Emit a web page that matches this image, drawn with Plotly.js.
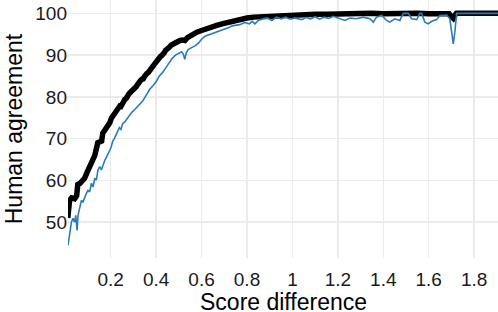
<!DOCTYPE html>
<html>
<head>
<meta charset="utf-8">
<script src="https://cdn.plot.ly/plotly-3.0.1.min.js"></script>
<style>html,body{margin:0;padding:0;background:#fff;}#chart{width:498px;height:312px;}</style>
</head>
<body>
<div id="chart"></div>
<script>
const blackX = [0.011,0.015,0.019,0.028,0.041,0.050,0.055,0.065,0.072,0.085,0.095,0.107,0.118,0.130,0.143,0.152,0.160,0.165,0.175,0.182,0.196,0.203,0.209,0.213,0.217,0.222,0.226,0.232,0.240,0.245,0.250,0.256,0.262,0.268,0.275,0.280,0.285,0.293,0.299,0.306,0.312,0.319,0.326,0.331,0.337,0.343,0.348,0.354,0.359,0.365,0.370,0.376,0.381,0.387,0.392,0.398,0.403,0.409,0.414,0.420,0.425,0.431,0.436,0.441,0.447,0.453,0.460,0.467,0.474,0.482,0.490,0.498,0.505,0.518,0.527,0.538,0.548,0.563,0.579,0.600,0.623,0.645,0.667,0.690,0.711,0.74,0.77,0.80,0.83,0.86,0.90,0.95,1.00,1.05,1.10,1.15,1.20,1.25,1.30,1.35,1.40,1.45,1.50,1.55,1.60,1.65,1.69,1.700,1.708,1.716,1.722,1.80,1.905];
const blackY = [51.0,53.8,55.2,55.8,55.6,56.3,59.0,59.3,59.6,60.5,61.8,63.2,64.4,66.0,69.0,69.1,69.4,71.3,72.0,72.6,73.8,74.9,75.4,75.2,75.9,76.5,76.4,77.2,77.8,77.7,78.4,79.0,79.4,79.6,80.6,80.7,81.0,81.4,81.5,82.2,82.4,83.0,83.3,83.9,84.2,84.3,84.8,85.4,85.6,85.8,86.3,86.9,87.0,87.4,87.8,88.3,88.5,88.7,89.2,89.7,89.9,90.1,90.6,91.1,91.3,91.5,92.0,92.4,92.6,92.7,93.2,93.3,93.5,93.6,93.5,94.2,94.6,95.0,95.5,95.9,96.4,96.8,97.1,97.5,97.8,98.3,98.6,98.9,99.1,99.2,99.4,99.5,99.6,99.7,99.8,99.8,99.9,99.8,99.9,100.0,99.9,100.0,99.9,100.0,99.9,100.0,99.9,99.2,98.8,99.6,100.0,100.0,100.0];

const blueX = [0.012,0.019,0.027,0.034,0.041,0.046,0.052,0.056,0.063,0.071,0.078,0.085,0.093,0.100,0.107,0.115,0.122,0.130,0.137,0.144,0.152,0.159,0.166,0.174,0.181,0.188,0.196,0.202,0.209,0.216,0.223,0.231,0.238,0.245,0.253,0.262,0.270,0.280,0.293,0.303,0.315,0.328,0.341,0.350,0.359,0.372,0.385,0.400,0.414,0.428,0.443,0.456,0.470,0.485,0.500,0.512,0.520,0.526,0.533,0.541,0.556,0.571,0.585,0.600,0.615,0.630,0.645,0.660,0.675,0.690,0.705,0.720,0.735,0.750,0.768,0.79,0.81,0.823,0.835,0.85,0.87,0.89,0.91,0.93,0.95,0.97,0.99,1.01,1.04,1.06,1.08,1.10,1.12,1.14,1.16,1.18,1.21,1.231,1.253,1.282,1.311,1.341,1.356,1.370,1.393,1.415,1.429,1.451,1.473,1.488,1.510,1.518,1.525,1.547,1.561,1.569,1.583,1.598,1.613,1.635,1.649,1.679,1.693,1.701,1.708,1.715,1.723,1.905];
const blueY = [44.4,47.6,50.0,50.9,50.0,51.6,48.0,51.6,53.6,55.2,54.8,56.0,56.9,57.6,57.2,59.3,58.4,60.5,60.1,62.5,63.3,62.5,63.7,64.8,65.5,66.2,67.2,68.0,69.4,70.0,70.8,71.4,72.6,72.2,73.6,74.0,74.6,75.5,76.3,76.8,77.5,78.3,79.0,79.8,80.6,81.8,82.6,83.6,85.0,85.8,87.0,88.0,89.2,90.0,90.4,90.8,90.2,89.0,90.6,91.3,91.8,92.2,92.8,93.8,94.5,94.8,95.1,95.3,95.7,96.0,96.3,96.6,97.0,97.2,97.3,97.8,97.5,98.1,97.5,98.3,98.7,98.9,98.3,99.1,98.7,99.1,98.6,98.9,98.5,99.0,98.7,99.2,98.6,99.1,98.8,99.3,98.7,98.3,98.9,98.7,99.1,98.7,97.9,99.1,99.5,98.3,97.9,98.7,98.3,100.0,100.0,99.4,98.7,98.5,100.0,100.0,97.9,97.5,98.1,98.5,99.5,99.6,98.7,95.5,92.7,95.5,100.0,100.0];

const xTicks = [0.2,0.4,0.6,0.8,1,1.2,1.4,1.6,1.8];
const yTicks = [50,60,70,80,90,100];
const xTitle = 'Score difference';
const yTitle = 'Human agreement';

const font = "Liberation Sans, Arial, Helvetica, sans-serif";

const traces = [
  {x: blackX, y: blackY, type: 'scatter', mode: 'lines', line: {color: '#000000', width: 5.5}, hoverinfo: 'skip'},
  {x: blueX, y: blueY, type: 'scatter', mode: 'lines', line: {color: '#2b7bba', width: 1.6}, hoverinfo: 'skip'}
];

const layout = {
  width: 498, height: 312,
  margin: {l: 68, r: 0, t: 0, b: 54},
  paper_bgcolor: '#ffffff', plot_bgcolor: '#ffffff',
  showlegend: false,
  font: {family: font, color: '#000000', size: 19},
  xaxis: {
    range: [0.012, 1.905],
    tickvals: xTicks,
    ticktext: xTicks.map(String),
    showgrid: true, gridcolor: '#ebebeb', gridwidth: 1.5,
    zeroline: false, showline: false, ticks: '',
    tickfont: {size: 19, color: '#1a1a1a'},
    ticklabelstandoff: 8
  },
  yaxis: {
    range: [41.4, 103.2],
    tickvals: yTicks,
    ticktext: yTicks.map(String),
    showgrid: true, gridcolor: '#ebebeb', gridwidth: 1.5,
    zeroline: false, showline: false, ticks: '',
    tickfont: {size: 19, color: '#1a1a1a'},
    ticklabelstandoff: 0,
    title: {text: yTitle, font: {size: 23, color: '#000000'}, standoff: 6}
  },
  annotations: [{
    text: xTitle, xref: 'paper', yref: 'paper', x: 0.5, y: 0,
    xanchor: 'center', yanchor: 'middle', yshift: -44, showarrow: false,
    font: {size: 23, color: '#000000', family: font}
  }]
};

Plotly.newPlot('chart', traces, layout, {staticPlot: true, displayModeBar: false});
</script>
</body>
</html>
